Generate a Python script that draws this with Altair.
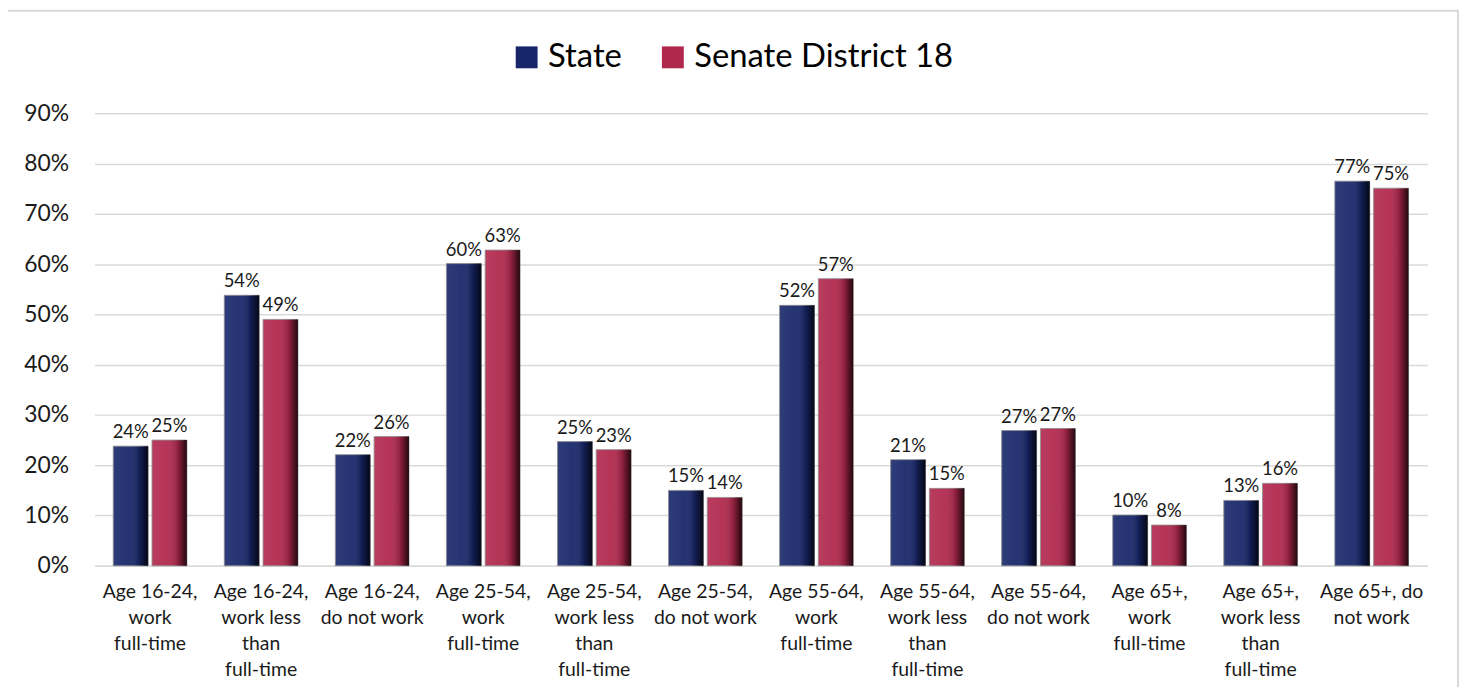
import altair as alt
import pandas as pd

categories = [
    "Age 16-24,|work|full-time",
    "Age 16-24,|work less|than|full-time",
    "Age 16-24,|do not work",
    "Age 25-54,|work|full-time",
    "Age 25-54,|work less|than|full-time",
    "Age 25-54,|do not work",
    "Age 55-64,|work|full-time",
    "Age 55-64,|work less|than|full-time",
    "Age 55-64,|do not work",
    "Age 65+,|work|full-time",
    "Age 65+,|work less|than|full-time",
    "Age 65+, do|not work",
]
state = [0.238, 0.538, 0.221, 0.601, 0.247, 0.150, 0.518, 0.211, 0.269, 0.101, 0.130, 0.765]
district = [0.250, 0.490, 0.257, 0.628, 0.231, 0.136, 0.571, 0.154, 0.273, 0.081, 0.164, 0.751]
series_names = ["State", "Senate District 18"]
series_colors = ["#17266A", "#B0274C"]
y_ticks = [0, 0.1, 0.2, 0.3, 0.4, 0.5, 0.6, 0.7, 0.8, 0.9]

rows = []
for c, s, d in zip(categories, state, district):
    rows.append({"category": c, "series": series_names[0], "value": s})
    rows.append({"category": c, "series": series_names[1], "value": d})
df = pd.DataFrame(rows)

FONT = "Lato"
W, H = 1340, 455

x_enc = alt.X("category:N", sort=categories,
              scale=alt.Scale(paddingInner=0.337, paddingOuter=0.1685),
              axis=alt.Axis(title=None, labelAngle=0, labelExpr="split(datum.label, '|')",
                            labelFontSize=19.5, labelFont=FONT, labelColor="#1a1a1a",
                            labelLineHeight=26, labelPadding=17, ticks=False, labelLimit=200,
                            domain=True, domainColor="#d9d9d9", domainWidth=1.5,
                            labelBaseline="top"))
xo_enc = alt.XOffset("series:N", sort=series_names,
                     scale=alt.Scale(paddingInner=0.1, paddingOuter=0))
y_enc = alt.Y("value:Q",
              scale=alt.Scale(domain=[0, 0.9], nice=False),
              axis=alt.Axis(title=None, values=y_ticks, format=".0%", labelFontSize=23,
                            labelFont=FONT, labelColor="#1a1a1a", labelPadding=26,
                            ticks=False, domain=False, gridColor="#d9d9d9", gridWidth=1.5))

base = alt.Chart(df)

bars = base.mark_bar(stroke="#8a8a8a", strokeWidth=0.8).encode(
    x=x_enc, xOffset=xo_enc, y=y_enc,
    color=alt.Color("series:N", sort=series_names,
                    scale=alt.Scale(domain=series_names, range=series_colors),
                    legend=alt.Legend(title=None, orient="none", direction="horizontal",
                                      legendX=418, legendY=-73, symbolType="square",
                                      symbolSize=484, symbolStrokeWidth=0,
                                      labelFontSize=33, labelFont=FONT, labelColor="#000000",
                                      labelOffset=5, columnPadding=34, labelLimit=600)),
)

shade = alt.Gradient(
    gradient="linear", x1=0, x2=1, y1=0, y2=0,
    stops=[alt.GradientStop(offset=0, color="rgba(255,255,255,0.10)"),
           alt.GradientStop(offset=0.45, color="rgba(255,255,255,0.06)"),
           alt.GradientStop(offset=0.75, color="rgba(0,0,0,0.2)"),
           alt.GradientStop(offset=1, color="rgba(0,0,0,0.8)")])

overlay = base.mark_bar(fill=shade, strokeWidth=0).encode(
    x=alt.X("category:N", sort=categories), xOffset=alt.XOffset("series:N", sort=series_names),
    y=alt.Y("value:Q"))

labels = base.mark_text(dy=-4, fontSize=18.5, font=FONT, color="#1a1a1a", baseline="bottom").encode(
    x=alt.X("category:N", sort=categories), xOffset=alt.XOffset("series:N", sort=series_names),
    y=alt.Y("value:Q"), text=alt.Text("value:Q", format=".0%"))

border = alt.Chart(pd.DataFrame({"k": [0]})).mark_rect(
    fill=None, stroke="#d9d9d9", strokeWidth=2).encode(
    x=alt.value(-88), x2=alt.value(W + 31), y=alt.value(-103), y2=alt.value(H + 140))

chart = alt.layer(bars, overlay, labels, border).properties(
    width=W, height=H, autosize=alt.AutoSizeParams(type="none"),
    padding={"left": 87, "top": 104, "right": 36, "bottom": 120},
    background="white",
).configure_view(strokeWidth=0, stroke="transparent")

chart.save("out.html", embed_options={"renderer": "svg", "actions": False})
